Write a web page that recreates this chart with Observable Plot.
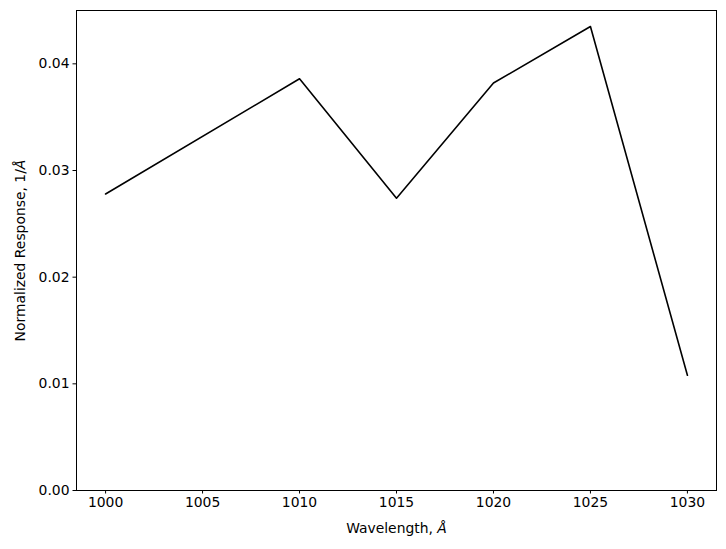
<!DOCTYPE html>
<html><head>
<meta charset="utf-8">
<script src="https://cdn.jsdelivr.net/npm/d3@7"></script>
<script src="https://cdn.jsdelivr.net/npm/@observablehq/plot@0.6"></script>
<style>body{margin:0;background:#fff}</style>
</head><body><div id="chart"></div>
<script>
const wavelengths = [1000, 1010, 1015, 1020, 1025, 1030];
const responses = [0.0278, 0.0386, 0.0274, 0.0382, 0.0435, 0.0108];
const xTicks = [1000, 1005, 1010, 1015, 1020, 1025, 1030];
const yTicks = [0, 0.01, 0.02, 0.03, 0.04];
const xLabel = "Wavelength, Å";
const yLabel = "Normalized Response, 1/Å";

const data = wavelengths.map((w, i) => ({w, r: responses[i]}));

const chart = Plot.plot({
  width: 726, height: 549,
  marginLeft: 76, marginRight: 10, marginTop: 10, marginBottom: 59,
  style: {fontFamily: "DejaVu Sans", fontSize: "13.9px", color: "#000", background: "#fff", overflow: "visible"},
  x: {domain: [998.5, 1031.5]},
  y: {domain: [0, 0.045]},
  marks: [
    Plot.axisX({ticks: xTicks, tickFormat: d => String(d), tickSize: 3.5, tickPadding: 3.5, label: null, stroke: "#000", fontSize: 13.9}),
    Plot.axisY({ticks: yTicks, tickFormat: d3.format(".2f"), tickSize: 3.5, tickPadding: 3.5, label: null, stroke: "#000", fontSize: 13.9}),
    Plot.line(data, {x: "w", y: "r", stroke: "#000", strokeWidth: 1.6}),
    Plot.frame({stroke: "#000", strokeWidth: 1}),
    Plot.text([xLabel], {text: d => d, frameAnchor: "bottom", dy: 38, lineAnchor: "middle", fontSize: 13.9, fill: "#000"}),
    Plot.text([yLabel], {text: d => d, frameAnchor: "left", dx: -56, rotate: -90, lineAnchor: "middle", textAnchor: "middle", fontSize: 13.9, fill: "#000"})
  ]
});
document.getElementById("chart").appendChild(chart);

// italicize the Å symbol like matplotlib mathtext
d3.select(chart).selectAll("text").each(function() {
  const t = this.textContent;
  if (t === xLabel || t === yLabel) {
    const sel = d3.select(this);
    const ts = sel.select("tspan").empty() ? sel : sel.select("tspan");
    const base = t.slice(0, -1);
    ts.text(base);
    ts.append("tspan").attr("font-style", "italic").text("Å");
  }
});
</script>
</body></html>
